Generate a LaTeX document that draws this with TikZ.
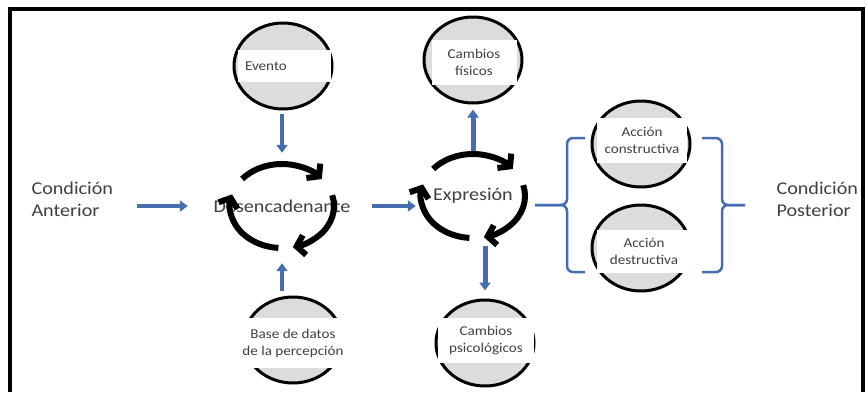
\documentclass[tikz,border=0pt]{standalone}
\usepackage{fontspec}
\setmainfont{Carlito}[FakeStretch=1.12]
\usetikzlibrary{shapes.geometric,arrows.meta,positioning}
\definecolor{flowblue}{RGB}{70,110,175}
\definecolor{bubblegray}{RGB}{220,220,220}
\definecolor{txtgray}{RGB}{64,64,64}
\tikzstyle{bubble} = [ellipse, draw, line width=3pt, fill=bubblegray,
    minimum width=98pt, minimum height=86pt, inner sep=0pt]
\tikzstyle{band} = [rectangle, fill=white, text=txtgray, inner sep=0pt,
    font=\fontsize{13.5}{17}\selectfont, align=center]
\tikzstyle{loopnode} = [ellipse, minimum width=104pt, minimum height=84pt, inner sep=0pt]
\tikzstyle{big} = [text=txtgray, font=\fontsize{18}{22}\selectfont, align=left]
\tikzstyle{cyc} = [line width=6pt, -{Straight Barb[length=8pt,width=20pt]}]
\tikzstyle{flow} = [draw=flowblue, line width=3.5pt, -{Triangle[length=8pt,width=11pt]}]
\tikzstyle{brace} = [draw=flowblue, line width=2.5pt, rounded corners=6pt]

\begin{document}
\begin{tikzpicture}[x=1pt, y=1pt]
\useasboundingbox (0,0) rectangle (868,-392);
\draw[line width=4.5pt] (10,-392) -- (10,-9) -- (863,-9) -- (863,-392);

    % Place nodes
\node[big, anchor=west] (antes) at (28,-199) {Condición\\Anterior};
\node[big, anchor=west] (despues) at (773,-199) {Condición\\Posterior};
\node[loopnode, label={[big]center:Desencadenante}] (des) at (282,-206) {};
\node[loopnode, label={[big]center:Expresión}] (expr) at (473,-196) {};

\node[bubble] (evento) at (283,-66) {};
\node[band, minimum width=93pt, minimum height=32pt, align=left, text width=78pt]
    (evento-l) at (284,-66) {Evento};
\node[bubble] (fisicos) at (473,-60) {};
\node[band, minimum width=85pt, minimum height=45pt] (fisicos-l) at (474,-62) {Cambios\\físicos};
\node[bubble] (base) at (293,-340) {};
\node[band, minimum width=107pt, minimum height=50pt] (base-l) at (293,-343) {Base de datos\\de la percepción};
\node[bubble] (psico) at (485,-343) {};
\node[band, minimum width=96pt, minimum height=45pt] (psico-l) at (486,-340) {Cambios\\psicológicos};
\node[bubble] (constr) at (641,-144) {};
\node[band, minimum width=90pt, minimum height=45pt] (constr-l) at (642,-140) {Acción\\constructiva};
\node[bubble] (destr) at (641,-248) {};
\node[band, minimum width=95pt, minimum height=43pt] (destr-l) at (644,-251) {Acción\\destructiva};

    % Cycle arrows
\foreach \n in {des,expr}
  \foreach \a/\b in {140/40,15/-78,-94/-196}
    \draw[cyc] ([shift={(\a:52pt and 42pt)}]\n.center)
        arc[start angle=\a, end angle=\b, x radius=52pt, y radius=42pt];

    % Draw edges
\path[flow, shorten <=20pt, shorten >=42pt] (antes.east |- des.west) -- (des.west);
\path[flow, shorten <=3pt, shorten >=11pt] (evento.south -| des) -- (des.north);
\path[flow, shorten <=5pt, shorten >=15pt] (base.north -| des) -- (des.south);
\path[flow, shorten <=38pt, shorten >=5pt] (des.east) -- (des.east -| expr.west);
\path[flow, line width=5pt, shorten <=3pt, shorten >=5pt] (expr.north) -- (fisicos.south);
\path[flow, line width=5pt, shorten <=8pt, shorten >=8pt] (expr.south -| psico) -- (psico.north);

    % Braces
\coordinate (ltip) at (535,-205);
\coordinate (rtip) at (745,-205);
\path[brace] (585,-138) -| (567,-205) -- (ltip);
\path[brace] (ltip) -- (567,-205) |- (585,-272);
\path[brace] (702,-138) -| (722,-205) -- (rtip);
\path[brace] (rtip) -- (722,-205) |- (702,-272);
\end{tikzpicture}
\end{document}
